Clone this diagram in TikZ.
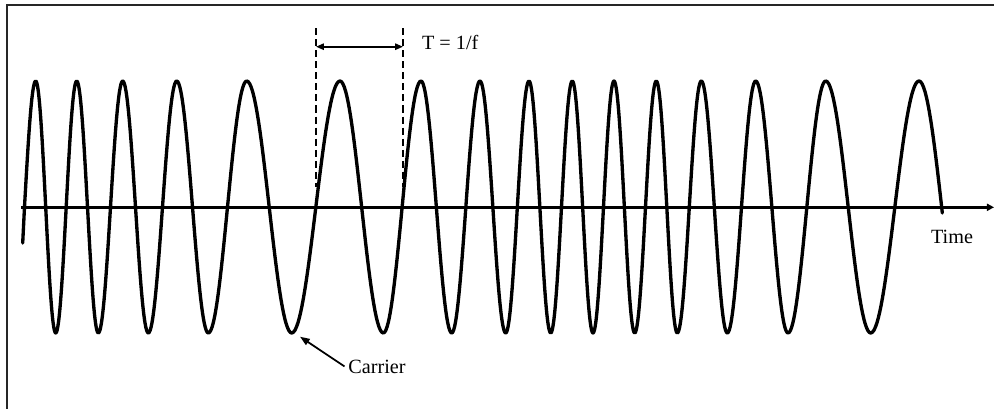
\documentclass[tikz,border=0pt]{standalone}
\usepackage{fontspec}
\setmainfont{Liberation Serif}
\usetikzlibrary{arrows.meta}

\begin{document}
\begin{tikzpicture}[x=0.02cm, y=-0.02cm,
  frame/.style={draw=black!85, line width=0.9pt},
  wave/.style={line width=1.9pt, line join=round, line cap=round},
  axis/.style={line width=1.4pt, -{Triangle[length=4pt, width=4pt]}},
  guide/.style={line width=0.6pt, dash pattern=on 4pt off 2.3pt},
  arr/.style={line width=1pt, -{Triangle[length=5.5pt, width=4pt]}},
  lbl/.style={font=\fontsize{11.5}{13}\selectfont, inner sep=0pt}
]
  \useasboundingbox (0,0) rectangle (994,409);
  \clip (0,0) rectangle (994,409);
  \draw[frame] (7,5) rectangle (1010,420);

  % Coordinates
  \coordinate (ax0) at (21,207.3);
  \coordinate (ax1) at (994,207.3);
  \coordinate (zc1) at (316,207);
  \coordinate (zc2) at (403,207);
  \coordinate (tip) at (300,336.7);

  % Labels
  \node[lbl, anchor=base west] (period)  at (421.7,49.3) {T = 1/f};
  \node[lbl, anchor=base west] (time)    at (930.7,243.3) {Time};
  \node[lbl, anchor=base west] (carrier) at (348,373) {Carrier};

  % Axis
  \draw[axis] (ax0) -- (ax1);

  % Carrier
  \draw[wave] (22.7,243) -- (24.5,207) sin (35.7,81)
    \foreach \xa/\xb/\yb in {35.7/55.7/333, 55.7/76.7/81, 76.7/98.3/333,
      98.3/122.7/81, 122.7/148.3/333, 148.3/176.7/81, 176.7/208.3/333,
      208.3/246.7/81, 246.7/291.7/333, 291.7/340/81, 340/383.3/333,
      383.3/421/81, 421/451.7/333, 451.7/480/81, 480/505.7/333,
      505.7/529/81, 529/550.7/333, 550.7/572.3/81, 572.3/593/333,
      593/614/81, 614/634.7/333, 634.7/656.3/81, 656.3/677.3/333,
      677.3/701.3/81, 701.3/727.3/333, 727.3/755.7/81, 755.7/788/333,
      788/825.7/81, 825.7/870.7/333, 870.7/919/81}
    { cos ({(\xa+\xb)/2},207) sin (\xb,\yb) }
    cos (942,210) -- (942.3,213);

  % Period
  \coordinate (g1) at (zc1 |- 0,28);
  \coordinate (g2) at (zc2 |- 0,28);
  \draw[guide] (g1) -- ([yshift=0.4cm]zc1);
  \draw[guide] (g2) -- ([yshift=0.4cm]zc2);
  \draw[arr, {Triangle[length=4.5pt, width=3.6pt]}-{Triangle[length=4.5pt, width=3.6pt]}]
    (zc1 |- 0,46.7) -- (zc2 |- 0,46.7);

  % Pointer
  \draw[arr] ([xshift=-2pt]carrier.west) -- (tip);
\end{tikzpicture}
\end{document}
